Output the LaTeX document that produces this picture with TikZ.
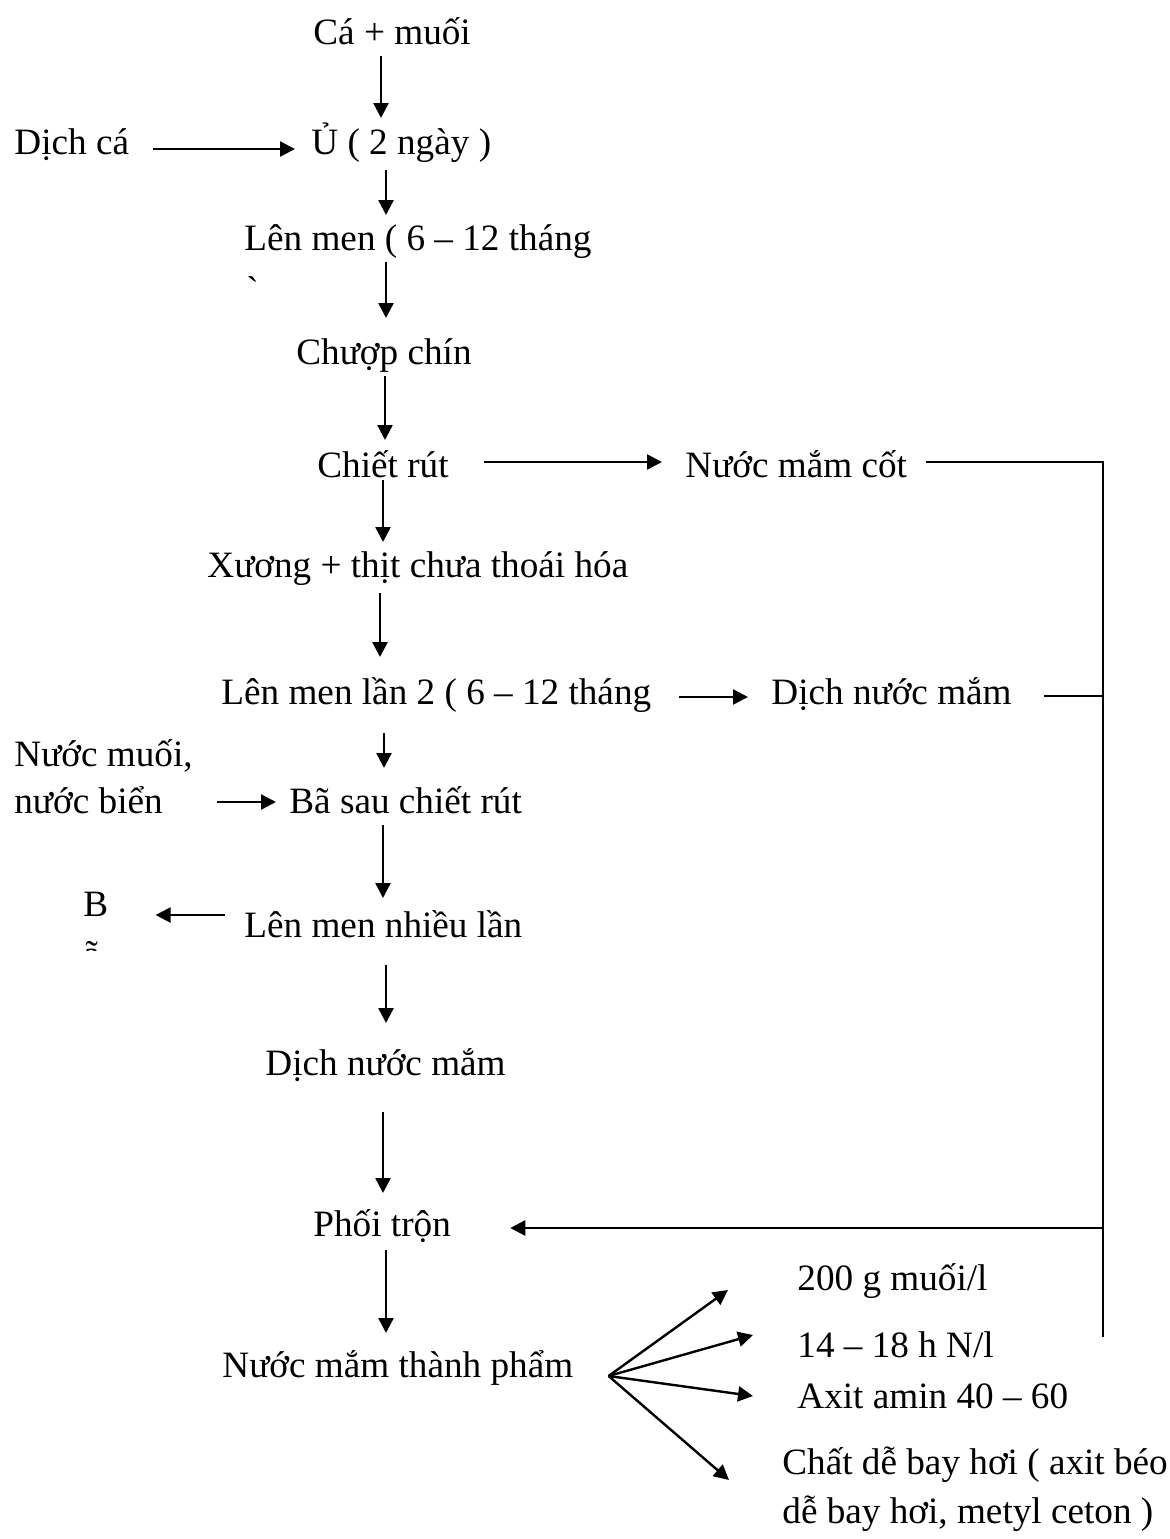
\documentclass[tikz,border=0pt]{standalone}
\usepackage{fontspec}
\setmainfont{Liberation Serif}
\usetikzlibrary{arrows.meta}
\begin{document}
\begin{tikzpicture}[x=0.5pt,y=-0.5pt,
  txt/.style={anchor=base west,inner sep=0pt,font=\fontsize{18.6pt}{22pt}\selectfont},
  wire/.style={line width=1.2pt},
  arr/.style={wire,-{Triangle[length=7.5pt,width=7.5pt]}}]
\useasboundingbox (0,0) rectangle (1170,1539);

% process steps along the main column
\node[txt] (cam)  at (313,44)   {Cá + muối};
\node[txt] (dc)   at (14,154)   {Dịch cá};
\node[txt] (u)    at (311,154)  {Ủ ( 2 ngày )};
\node[txt] (lm1)  at (244,250)  {Lên men ( 6 – 12 tháng};
\node[txt] (grv)  at (246,302)  {\addfontfeatures{Ligatures=TeXOff}`};
\node[txt] (cc)   at (296,364)  {Chượp chín};
\node[txt] (cr)   at (317,477)  {Chiết rút};
\node[txt] (nmc)  at (685,477)  {Nước mắm cốt};
\node[txt] (xt)   at (207,577)  {Xương + thịt chưa thoái hóa};
\node[txt] (lm2)  at (221,704)  {Lên men lần 2 ( 6 – 12 tháng};
\node[txt] (dnm1) at (771,704)  {Dịch nước mắm};
\node[txt] (nm1)  at (14,766)   {Nước muối,};
\node[txt] (nm2)  at (14,813)   {nước biển};
\node[txt] (bs)   at (289,813)  {Bã sau chiết rút};
\node[txt] (lmn)  at (244,937)  {Lên men nhiều lần};
\node[txt] (bb)   at (83,916)   {B};
\begin{scope}
  \clip (70,925) rectangle (130,950);
  \node[txt] (bt) at (83,966) {ã};
\end{scope}
\node[txt] (dnm2) at (265,1075) {Dịch nước mắm};
\node[txt] (pt)   at (313,1236) {Phối trộn};
\node[txt] (nmtp) at (222,1377) {Nước mắm thành phẩm};
\node[txt] (t1)   at (797,1290) {200 g muối/l};
\node[txt] (t2)   at (797,1357) {14 – 18 h N/l};
\node[txt] (t3)   at (797,1408) {Axit amin 40 – 60};
\node[txt] (t4)   at (782,1474) {Chất dễ bay hơi ( axit béo};
\node[txt] (t5)   at (782,1523) {dễ bay hơi, metyl ceton )};

% x positions of the vertical arrows
\coordinate (v1) at (381,0);
\coordinate (v2) at (386,0);
\coordinate (v3) at (386,0);
\coordinate (v4) at (385,0);
\coordinate (v5) at (383,0);
\coordinate (v6) at (380,0);
\coordinate (v7) at (384,0);
\coordinate (v8) at (383,0);
\coordinate (v9) at (386,0);
\coordinate (v10) at (383,0);
\coordinate (v11) at (386,0);

% main downward flow
\draw[arr,shorten <=6pt,shorten >=18pt]     (cam.base -| v1)  -- (u.base -| v1);
\draw[arr,shorten <=8pt,shorten >=17.5pt]   (u.base -| v2)    -- (lm1.base -| v2);
\draw[arr,shorten <=6pt,shorten >=23pt]     (lm1.base -| v3)  -- (cc.base -| v3);
\draw[arr,shorten <=6pt,shorten >=18.5pt]   (cc.base -| v4)   -- (cr.base -| v4);
\draw[arr,shorten <=1.5pt,shorten >=17.5pt] (cr.base -| v5)   -- (xt.base -| v5);
\draw[arr,shorten <=8pt,shorten >=23.5pt]   (xt.base -| v6)   -- (lm2.base -| v6);
\draw[arr,shorten <=14.5pt,shorten >=22.5pt](lm2.base -| v7)  -- (bs.base -| v7);
\draw[arr,shorten <=6pt,shorten >=19.5pt]   (bs.base -| v8)   -- (lmn.base -| v8);
\draw[arr,shorten <=14pt,shorten >=26pt]    (lmn.base -| v9)  -- (dnm2.base -| v9);
\draw[arr,shorten <=18.5pt,shorten >=21.5pt](dnm2.base -| v10) -- (pt.base -| v10);
\draw[arr,shorten <=7pt,shorten >=22pt]     (pt.base -| v11)  -- (nmtp.base -| v11);

% side inputs and outputs
\draw[arr,shorten <=12pt,shorten >=8pt]
  ([yshift=2.5pt]dc.base east) -- ([yshift=2.5pt]u.base west);
\draw[arr,shorten <=17.5pt,shorten >=11.5pt]
  ([yshift=7.5pt]cr.base east) -- ([yshift=7.5pt]nmc.base west);
\draw[arr,shorten <=13.5pt,shorten >=11.5pt]
  ([yshift=3.5pt]lm2.base east) -- ([yshift=3.5pt]dnm1.base west);
\draw[arr,shorten <=27pt,shorten >=6.5pt]
  ([yshift=5.5pt]nm2.base east) -- ([yshift=5.5pt]bs.base west);
\draw[arr,shorten <=9.5pt,shorten >=23.5pt]
  ([yshift=11pt]lmn.base west) -- ([yshift=0.5pt]bb.base east);

% return rail collecting the fish sauce back to blending
\coordinate (railend) at (1103,1337);
\draw[wire,shorten <=9.5pt] ([yshift=7.5pt]nmc.base east) -| (railend);
\draw[wire,shorten <=16pt]
  ([yshift=4pt]dnm1.base east) -- ([yshift=4pt]dnm1.base east -| railend);
\draw[arr,shorten >=29.5pt]
  ([yshift=4pt]pt.base east -| railend) -- ([yshift=4pt]pt.base east);

% product characteristics
\coordinate (fan) at ([xshift=17.5pt,yshift=0.5pt]nmtp.base east);
\draw[arr] (fan) -- ([xshift=-34.5pt]t1.base west);
\draw[arr] (fan) -- ([xshift=-22pt,yshift=11pt]t2.base west);
\draw[arr] (fan) -- ([xshift=-22pt,yshift=6pt]t3.base west);
\draw[arr] (fan) -- ([xshift=-26.5pt,yshift=-3pt]t4.base west);
\end{tikzpicture}
\end{document}
